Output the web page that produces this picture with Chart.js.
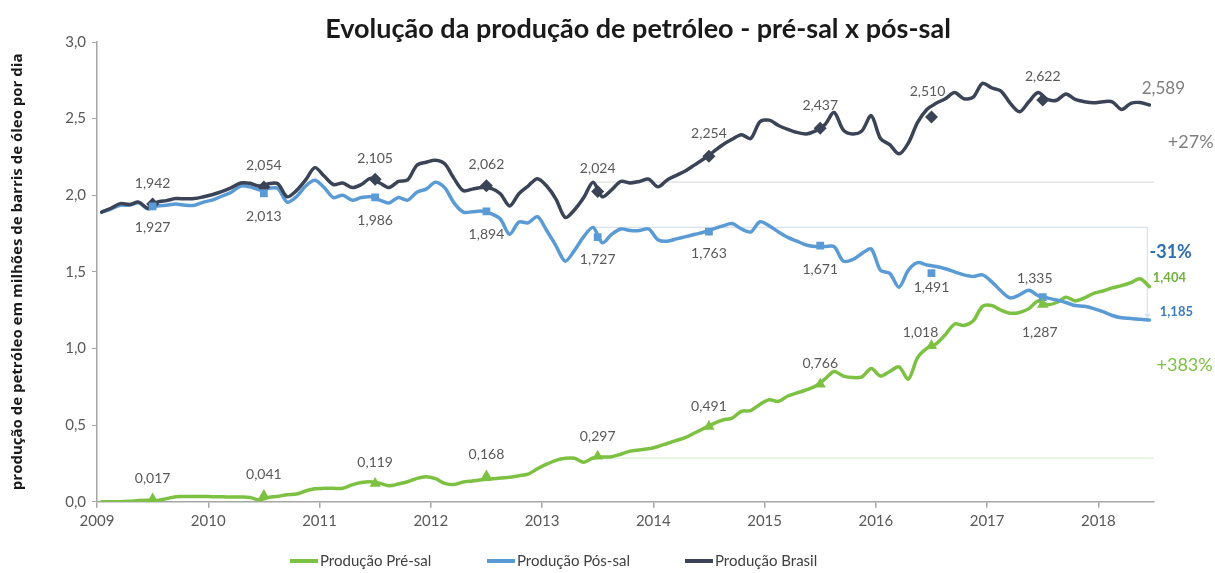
<!DOCTYPE html>
<html>
<head>
<meta charset="utf-8">
<script src="https://cdn.jsdelivr.net/npm/chart.js@4.4.1/dist/chart.umd.min.js"></script>
<style>
  html, body { margin: 0; padding: 0; background: #fff; }
</style>
</head>
<body>
<canvas id="chart" width="1215" height="573"></canvas>
<script>
const titleText = "Evolução da produção de petróleo - pré-sal x pós-sal";
const yTitle = "produção de petróleo em milhões de barris de óleo por dia";
const seriesNames = ["Produção Pré-sal", "Produção Pós-sal", "Produção Brasil"];
const yearTicks = [2009, 2010, 2011, 2012, 2013, 2014, 2015, 2016, 2017, 2018];
const startYear = 2009; // monthly values, Jan 2009 .. Jun 2018

const preSal = [
  0.0, 0.0, 0.0, 0.003, 0.008, 0.01, 0.008, 0.02, 0.033, 0.034, 0.034, 0.034,
  0.033, 0.032, 0.03, 0.03, 0.028, 0.012, 0.028, 0.035, 0.045, 0.05, 0.07, 0.085,
  0.087, 0.087, 0.088, 0.11, 0.125, 0.13, 0.12, 0.104, 0.115, 0.13, 0.152, 0.163,
  0.15, 0.12, 0.112, 0.128, 0.135, 0.143, 0.148, 0.155, 0.16, 0.17, 0.18, 0.215,
  0.245, 0.27, 0.283, 0.283, 0.258, 0.285, 0.292, 0.294, 0.31, 0.33, 0.338, 0.345,
  0.36, 0.38, 0.40, 0.42, 0.45, 0.48, 0.51, 0.533, 0.545, 0.59, 0.595, 0.635,
  0.665, 0.655, 0.69, 0.71, 0.73, 0.755, 0.80, 0.85, 0.82, 0.81, 0.815, 0.87,
  0.82, 0.85, 0.88, 0.80, 0.94, 1.0, 1.03, 1.09, 1.16, 1.15, 1.18, 1.275,
  1.28, 1.25, 1.23, 1.235, 1.26, 1.31, 1.285, 1.30, 1.335, 1.31, 1.33, 1.36,
  1.375, 1.395, 1.41, 1.43, 1.455, 1.404
];

const posSal = [
  1.89, 1.91, 1.935, 1.935, 1.95, 1.91, 1.93, 1.935, 1.942, 1.935, 1.935, 1.955,
  1.97, 1.995, 2.02, 2.06, 2.055, 2.035, 2.045, 2.045, 1.955, 1.99, 2.06, 2.098,
  2.05, 1.985, 2.0, 1.968, 1.985, 1.99, 1.968, 1.95, 1.985, 1.968, 2.02, 2.04,
  2.085, 2.05, 1.95, 1.89, 1.892, 1.896, 1.88, 1.845, 1.745, 1.825, 1.82, 1.86,
  1.77, 1.67, 1.57, 1.64, 1.73, 1.79, 1.69, 1.745, 1.78, 1.77, 1.77, 1.78,
  1.71, 1.70, 1.715, 1.73, 1.745, 1.76, 1.78, 1.80, 1.815, 1.78, 1.76, 1.827,
  1.80, 1.76, 1.725, 1.70, 1.675, 1.665, 1.665, 1.664, 1.57, 1.58, 1.62, 1.65,
  1.51, 1.49, 1.40, 1.51, 1.56, 1.545, 1.535, 1.52, 1.50, 1.48, 1.47, 1.48,
  1.435, 1.375, 1.33, 1.35, 1.38, 1.345, 1.33, 1.316, 1.30, 1.28, 1.275, 1.26,
  1.24, 1.215, 1.2, 1.196, 1.19, 1.185
];

const brasil = [
  1.89, 1.915, 1.945, 1.94, 1.955, 1.915, 1.955, 1.965, 1.978, 1.977, 1.978, 1.99,
  2.005, 2.025, 2.05, 2.08, 2.078, 2.06, 2.075, 2.075, 1.99, 2.03, 2.10, 2.18,
  2.125, 2.07, 2.08, 2.05, 2.07, 2.11, 2.08, 2.05, 2.09, 2.10, 2.196, 2.215,
  2.228, 2.205, 2.11, 2.03, 2.04, 2.05, 2.045, 2.01, 1.93, 2.01, 2.06, 2.108,
  2.06, 1.975, 1.855, 1.905, 1.985, 2.085, 1.99, 2.035, 2.09, 2.08, 2.09, 2.105,
  2.055, 2.10, 2.13, 2.16, 2.20, 2.24, 2.285, 2.33, 2.365, 2.395, 2.37, 2.48,
  2.49, 2.455, 2.43, 2.41, 2.40, 2.42, 2.46, 2.54, 2.425, 2.40, 2.42, 2.52,
  2.37, 2.33, 2.27, 2.34, 2.475, 2.56, 2.60, 2.63, 2.67, 2.63, 2.64, 2.73,
  2.70, 2.68, 2.60, 2.545, 2.61, 2.67, 2.625, 2.62, 2.66, 2.625, 2.61, 2.603,
  2.61, 2.61, 2.56, 2.60, 2.605, 2.589
];

// yearly averages, plotted at mid-year
const markerYears = [2009.5, 2010.5, 2011.5, 2012.5, 2013.5, 2014.5, 2015.5, 2016.5, 2017.5];
const preAvg = [0.017, 0.041, 0.119, 0.168, 0.297, 0.491, 0.766, 1.018, 1.287];
const posAvg = [1.927, 2.013, 1.986, 1.894, 1.727, 1.763, 1.671, 1.491, 1.335];
const brasilAvg = [1.942, 2.054, 2.105, 2.062, 2.024, 2.254, 2.437, 2.510, 2.622];

const changeLabels = ["+383%", "-31%", "+27%"];
const bracketFrom = 53; // Jun 2013

const colors = { pre: "#7dc142", pos: "#5b9bd5", brasil: "#3a4456" };
const labelGray = "#595959";

const monthX = brasil.map((_, i) => startYear + (i + 0.5) / 12);
const toPoints = vals => vals.map((v, i) => ({ x: monthX[i], y: v }));
const toMarkers = vals => vals.map((v, i) => ({ x: markerYears[i], y: v }));
const fmt = (v, d) => v.toFixed(d).replace(".", ",");

// bracket: from value at bracketFrom, across to past the end, then toward last value
function bracket(vals, xEnd, gap) {
  const last = vals[vals.length - 1];
  const base = vals[bracketFrom];
  const dir = last > base ? -1 : 1;
  return [
    { x: monthX[bracketFrom], y: base },
    { x: xEnd, y: base },
    { x: xEnd, y: last + dir * gap }
  ];
}

function lineSet(label, vals, color, order, endLabel) {
  return {
    label, data: toPoints(vals), borderColor: color, backgroundColor: color,
    borderWidth: 3.5, pointRadius: 0, tension: 0.3, fill: false,
    borderCapStyle: "round", borderJoinStyle: "round", order, endLabel, isMain: true
  };
}

function markerSet(vals, color, style, radius, offsets) {
  return {
    label: "", data: toMarkers(vals), showLine: false, pointStyle: style,
    pointRadius: radius, pointHoverRadius: radius, backgroundColor: color,
    borderColor: color, borderWidth: 0, order: 0,
    labelOffsets: offsets, labelFont: "14px Lato", labelColor: labelGray
  };
}

function bracketSet(points, color, arrowRot) {
  return {
    label: "", data: points, borderColor: color, borderWidth: 1.2, tension: 0,
    pointRadius: [0, 0, 3.5], pointStyle: "triangle", pointRotation: arrowRot,
    backgroundColor: color, pointBorderWidth: 0, fill: false, order: 10
  };
}

const datasets = [
  lineSet(seriesNames[0], preSal, colors.pre, 3,
    { dx: 20, dy: -9, font: "bold 13px Lato", color: "#70b13c" }),
  lineSet(seriesNames[1], posSal, colors.pos, 2,
    { dx: 27, dy: -8, font: "bold 13px Lato", color: "#3d7cbf" }),
  lineSet(seriesNames[2], brasil, colors.brasil, 1,
    { dx: 14, dy: -16, font: "17px Lato", color: "#7f7f7f" }),
  markerSet(preAvg, colors.pre, "triangle", 6.5,
    [[0, -21], [0, -21], [0, -21], [0, -21], [0, -20], [0, -20], [0, -21], [-11, -13], [-3, 28]]),
  markerSet(posAvg, colors.pos, "rect", 5.5,
    [[0, 21], [0, 23], [0, 23], [0, 23], [0, 22], [0, 22], [0, 24], [0, 14], [-8, -19]]),
  markerSet(brasilAvg, colors.brasil, "rectRot", 6.5,
    [[0, -21], [0, -21], [0, -21], [0, -21], [0, -23], [0, -23], [0, -23], [-4, -26], [0, -23]]),
  bracketSet(bracket(preSal, 2018.56, 0.03), "#dcefcf", 0),
  bracketSet(bracket(posSal, 2018.44, 0.03), "#d6e2ee", 180),
  bracketSet(bracket(brasil, 2018.56, 0.04), "#dedede", 0)
];

// texts for the percentage changes, placed in data units
const changeSpots = [
  { x: 2018.775, y: 0.89, color: "#7dc142", font: "18px Lato" },
  { x: 2018.65, y: 1.63, color: "#2f6eaa", font: "bold 18px Lato" },
  { x: 2018.83, y: 2.346, color: "#7f7f7f", font: "18px Lato" }
];

const extrasPlugin = {
  id: "extras",
  afterDatasetsDraw(chart) {
    const c = chart.ctx;
    c.save();
    c.textAlign = "center";
    c.textBaseline = "middle";
    chart.data.datasets.forEach((ds, di) => {
      const meta = chart.getDatasetMeta(di);
      if (ds.labelOffsets) {
        c.font = ds.labelFont;
        c.fillStyle = ds.labelColor;
        meta.data.forEach((pt, j) => {
          const [dx, dy] = ds.labelOffsets[j];
          c.fillText(fmt(ds.data[j].y, 3), pt.x + dx, pt.y + dy);
        });
      }
      if (ds.endLabel) {
        const pt = meta.data[meta.data.length - 1];
        c.font = ds.endLabel.font;
        c.fillStyle = ds.endLabel.color;
        c.fillText(fmt(ds.data[ds.data.length - 1].y, 3), pt.x + ds.endLabel.dx, pt.y + ds.endLabel.dy);
      }
    });
    const xs = chart.scales.x, ys = chart.scales.y;
    changeLabels.forEach((t, i) => {
      const s = changeSpots[i];
      c.font = s.font;
      c.fillStyle = s.color;
      c.fillText(t, xs.getPixelForValue(s.x), ys.getPixelForValue(s.y));
    });
    c.restore();
  },
  afterDraw(chart) {
    const c = chart.ctx;
    c.save();
    // title
    c.font = "bold 27px Lato";
    c.fillStyle = "#1a1a1a";
    c.textAlign = "center";
    c.textBaseline = "middle";
    c.fillText(titleText, 638, 29);
    // legend
    const startX = [290, 487, 685];
    c.font = "15px Lato";
    c.textAlign = "left";
    chart.data.datasets.filter(d => d.isMain).forEach((ds, i) => {
      c.fillStyle = ds.borderColor;
      c.fillRect(startX[i], 559, 28, 4);
      c.fillStyle = "#404040";
      c.fillText(ds.label, startX[i] + 30, 561);
    });
    c.restore();
  }
};

Chart.defaults.font.family = "Lato";

new Chart(document.getElementById("chart"), {
  type: "line",
  data: { datasets },
  options: {
    responsive: false,
    devicePixelRatio: 1,
    animation: false,
    layout: { padding: { top: 42, right: 61, left: 0, bottom: 0 } },
    plugins: {
      legend: { display: false },
      title: { display: false },
      tooltip: { enabled: false }
    },
    scales: {
      x: {
        type: "linear",
        min: 2009,
        max: 2018.5,
        afterBuildTicks: s => { s.ticks = yearTicks.map(v => ({ value: v })); },
        afterFit: s => { s.height = 71.3; },
        ticks: {
          autoSkip: false, maxRotation: 0, padding: 4,
          color: labelGray, font: { size: 15 },
          callback: v => String(v)
        },
        grid: { drawOnChartArea: false, tickLength: 6, color: "#a6a6a6", lineWidth: 1.5 },
        border: { color: "#a6a6a6", width: 1.5 }
      },
      y: {
        min: 0,
        max: 3,
        afterFit: s => { s.width = 97; },
        ticks: {
          stepSize: 0.5, padding: 6, color: labelGray, font: { size: 15 },
          callback: v => fmt(v, 1)
        },
        grid: { drawOnChartArea: false, tickLength: 5, color: "#a6a6a6" },
        border: { color: "#a6a6a6", width: 1.5 },
        title: {
          display: true, text: yTitle, color: "#1a1a1a",
          font: { family: "Open Sans", size: 15, weight: "bold" },
          padding: { top: 9, bottom: 0 }
        }
      }
    }
  },
  plugins: [extrasPlugin]
});
</script>
</body>
</html>
